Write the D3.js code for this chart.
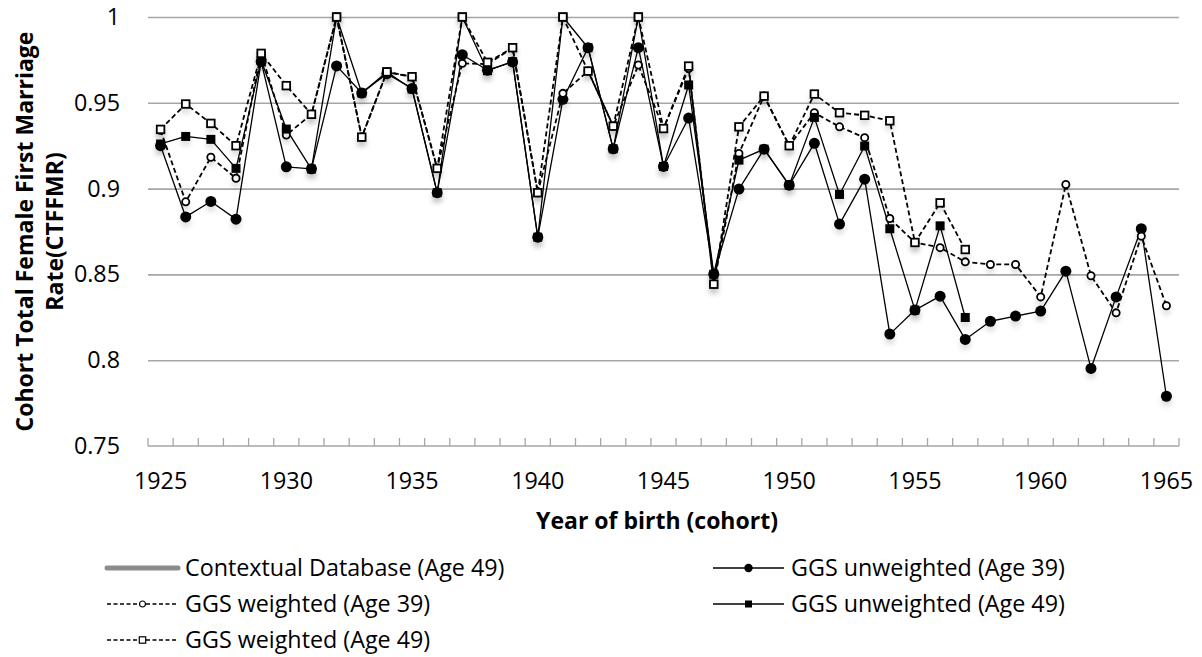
<!DOCTYPE html>
<html>
<head>
<meta charset="utf-8">
<script src="https://cdn.jsdelivr.net/npm/d3@7"></script>
<style>
  body { margin: 0; background: #fff; }
  svg text { font-family: "Open Sans", Lato, sans-serif; fill: #000; }
</style>
</head>
<body>
<svg id="chart" width="1202" height="657"></svg>
<script>
// cohorts (categories) and labelled ticks
var years = [1925, 1926, 1927, 1928, 1929, 1930, 1931, 1932, 1933, 1934,
             1935, 1936, 1937, 1938, 1939, 1940, 1941, 1942, 1943, 1944,
             1945, 1946, 1947, 1948, 1949, 1950, 1951, 1952, 1953, 1954,
             1955, 1956, 1957, 1958, 1959, 1960, 1961, 1962, 1963, 1964, 1965];
var xTickYears = [1925, 1930, 1935, 1940, 1945, 1950, 1955, 1960, 1965];
var yTicks = [0.75, 0.8, 0.85, 0.9, 0.95, 1];

// series values, one per cohort (null = no value)
var contextual49 = [];
var unweighted39 = [0.925, 0.8835, 0.8925, 0.8822, 0.974, 0.9127, 0.9115, 0.9715, 0.9557, 0.967,
                    0.9583, 0.8976, 0.978, 0.969, 0.9738, 0.8717, 0.952, 0.9821, 0.9232, 0.9821,
                    0.9129, 0.9411, 0.8501, 0.8997, 0.923, 0.902, 0.9264, 0.8793, 0.9055, 0.8152,
                    0.8292, 0.8373, 0.8121, 0.8227, 0.8257, 0.8286, 0.8519, 0.7952, 0.8369, 0.8766, 0.779];
var weighted39 = [0.934, 0.8923, 0.9183, 0.906, 0.9788, 0.9312, 0.9433, 1.0, 0.930, 0.968,
                  0.965, 0.912, 0.973, 0.9725, 0.982, 0.8976, 0.9555, 0.9685, 0.9364, 0.972,
                  0.935, 0.970, 0.8443, 0.9205, 0.954, 0.925, 0.9442, 0.936, 0.9297, 0.8826,
                  0.8686, 0.8656, 0.8573, 0.8558, 0.8558, 0.8369, 0.9024, 0.8492, 0.8276, 0.8723, 0.8317];
var unweighted49 = [0.926, 0.9304, 0.9287, 0.9118, 0.9747, 0.9347, 0.9114, 1.0, 0.9557, 0.968,
                    0.958, 0.8976, 1.0, 0.9687, 0.974, 0.8717, 1.0, 0.9821, 0.9232, 1.0,
                    0.9129, 0.9604, 0.8501, 0.9166, 0.923, 0.902, 0.9415, 0.8966, 0.9248, 0.8766,
                    0.8292, 0.8783, 0.8249, null, null, null, null, null, null, null, null];
var weighted49 = [0.9345, 0.9493, 0.938, 0.925, 0.9788, 0.960, 0.9433, 1.0, 0.930, 0.968,
                  0.9652, 0.9118, 1.0, 0.9736, 0.9821, 0.8976, 1.0, 0.9685, 0.9364, 1.0,
                  0.935, 0.9714, 0.8443, 0.936, 0.9539, 0.925, 0.9551, 0.9442, 0.9427, 0.9395,
                  0.8686, 0.8917, 0.8645, null, null, null, null, null, null, null, null];

var svg = d3.select("#chart");

var plot = {left: 148, right: 1179, top: 17, bottom: 446};
var gridColour = "#a6a6a6";
var fontSize = "23.3px";

var x = d3.scaleBand().domain(years).range([plot.left, plot.right]);
var y = d3.scaleLinear().domain([0.75, 1]).range([plot.bottom, plot.top]);

var series = [
  {name: "Contextual Database (Age 49)", values: contextual49, dash: null, width: 5, colour: "#8c8c8c", marker: null},
  {name: "GGS unweighted (Age 39)", values: unweighted39, dash: null, width: 1.3, colour: "#000", marker: "circleFilled"},
  {name: "GGS weighted (Age 39)", values: weighted39, dash: "5,3", width: 1.8, colour: "#000", marker: "circleOpen"},
  {name: "GGS unweighted (Age 49)", values: unweighted49, dash: null, width: 1.3, colour: "#000", marker: "squareFilled"},
  {name: "GGS weighted (Age 49)", values: weighted49, dash: "5,3", width: 1.8, colour: "#000", marker: "squareOpen"}
];

// soft shadow under markers
var defs = svg.append("defs");
var shadow = defs.append("filter").attr("id", "shadow")
  .attr("x", "-50%").attr("y", "-50%").attr("width", "200%").attr("height", "250%");
shadow.append("feDropShadow")
  .attr("dx", 0).attr("dy", 5).attr("stdDeviation", 2.5)
  .attr("flood-color", "#000").attr("flood-opacity", 0.12);

// gridlines
svg.append("g")
   .attr("class", "grid")
   .attr("transform", `translate(${plot.left},0)`)
   .call(d3.axisLeft(y)
     .tickValues(yTicks.slice(1))
     .tickSize(-(plot.right - plot.left))
     .tickFormat(""))
   .call(g => g.select(".domain").remove())
   .selectAll("line")
     .attr("stroke", gridColour)
     .attr("stroke-width", 1.6);

// y axis labels
svg.append("g")
   .attr("class", "y axis")
   .attr("transform", `translate(${plot.left},0)`)
   .call(d3.axisLeft(y)
     .tickValues(yTicks)
     .tickSize(0)
     .tickPadding(28)
     .tickFormat(d => String(+d.toFixed(2))))
   .call(g => g.select(".domain").remove())
   .selectAll("text")
     .attr("font-size", fontSize)
     .attr("font-family", "'Open Sans', Lato, sans-serif")
     .attr("fill", "#000");

// x axis: labels at category centres, ticks on category boundaries
svg.append("g")
   .attr("class", "x axis")
   .attr("transform", `translate(0,${plot.bottom})`)
   .call(d3.axisBottom(x)
     .tickValues(xTickYears)
     .tickSize(0)
     .tickPadding(26))
   .call(g => g.select(".domain").remove())
   .selectAll("text")
     .attr("font-size", fontSize)
     .attr("font-family", "'Open Sans', Lato, sans-serif")
     .attr("fill", "#000");

var boundaries = years.map(d => x(d)).concat([x.range()[1]]);
svg.append("g")
   .selectAll("line")
   .data(boundaries)
   .enter().append("line")
   .attr("x1", d => d).attr("x2", d => d)
   .attr("y1", plot.bottom).attr("y2", plot.bottom - 8)
   .attr("stroke", gridColour)
   .attr("stroke-width", 1.3);

svg.append("line")
   .attr("x1", plot.left).attr("x2", plot.right)
   .attr("y1", plot.bottom).attr("y2", plot.bottom)
   .attr("stroke", gridColour)
   .attr("stroke-width", 1.6);

// axis titles
svg.append("text")
   .attr("x", 657)
   .attr("y", 529)
   .attr("text-anchor", "middle")
   .attr("font-size", "23px")
   .attr("font-weight", "bold")
   .text("Year of birth (cohort)");

var yTitle = ["Cohort Total Female First Marriage", "Rate(CTFFMR)"];
svg.selectAll(".ytitle")
   .data(yTitle)
   .enter().append("text")
   .attr("class", "ytitle")
   .attr("transform", (d, i) => `translate(${33 + i * 30},${(plot.top + plot.bottom) / 2}) rotate(-90)`)
   .attr("text-anchor", "middle")
   .attr("font-size", "23px")
   .attr("font-weight", "bold")
   .text(d => d);

// lines
var cx = d => x(d.year) + x.bandwidth() / 2;
var line = d3.line()
  .defined(d => d.v != null)
  .x(cx)
  .y(d => y(d.v));

function points(s) {
  return s.values.map((v, i) => ({year: years[i], v: v})).filter(d => d.v != null);
}

svg.append("g")
   .selectAll("path")
   .data(series.filter(s => s.values.length))
   .enter().append("path")
   .attr("d", s => line(s.values.map((v, i) => ({year: years[i], v: v}))))
   .attr("fill", "none")
   .attr("stroke", s => s.colour)
   .attr("stroke-width", s => s.width)
   .attr("stroke-dasharray", s => s.dash)
   .attr("stroke-linejoin", "round");

function drawMarker(sel, type) {
  if (type === "circleFilled") {
    sel.append("circle").attr("r", 5.5).attr("fill", "#000");
  } else if (type === "circleOpen") {
    sel.append("circle").attr("r", 3.6).attr("fill", "#fff").attr("stroke", "#000").attr("stroke-width", 1.8);
  } else if (type === "squareFilled") {
    sel.append("rect").attr("x", -4.5).attr("y", -4.5).attr("width", 9).attr("height", 9).attr("fill", "#000");
  } else if (type === "squareOpen") {
    sel.append("rect").attr("x", -3.8).attr("y", -3.8).attr("width", 7.6).attr("height", 7.6)
       .attr("fill", "#fff").attr("stroke", "#000").attr("stroke-width", 1.8);
  }
}

series.filter(s => s.marker).forEach(function(s) {
  var g = svg.append("g").attr("class", "markers").attr("filter", "url(#shadow)");
  var m = g.selectAll("g")
    .data(points(s))
    .enter().append("g")
    .attr("transform", d => `translate(${cx(d)},${y(d.v)})`);
  drawMarker(m, s.marker);
});

// legend, two columns
var legendPos = [
  {x: 107, y: 568}, {x: 713, y: 568},
  {x: 107, y: 604}, {x: 713, y: 604},
  {x: 107, y: 640}
];

var legend = svg.append("g").attr("class", "legend")
  .selectAll("g")
  .data(series)
  .enter().append("g")
  .attr("transform", (d, i) => `translate(${legendPos[i].x},${legendPos[i].y})`);

legend.append("line")
  .attr("x1", 0).attr("x2", 71)
  .attr("y1", 0).attr("y2", 0)
  .attr("stroke", d => d.colour)
  .attr("stroke-width", d => d.width === 5 ? 5 : 1.4)
  .attr("stroke-linecap", d => d.width === 5 ? "round" : "butt")
  .attr("stroke-dasharray", d => d.dash ? "4,2.5" : null);

legend.each(function(d) {
  if (!d.marker) return;
  var m = d3.select(this).append("g").attr("transform", "translate(35.5,0)");
  if (d.marker === "circleFilled") m.append("circle").attr("r", 4.2).attr("fill", "#000");
  if (d.marker === "squareFilled") m.append("rect").attr("x", -3.5).attr("y", -3.5).attr("width", 7).attr("height", 7).attr("fill", "#000");
  if (d.marker === "circleOpen") m.append("circle").attr("r", 3).attr("fill", "#fff").attr("stroke", "#000").attr("stroke-width", 1.2);
  if (d.marker === "squareOpen") m.append("rect").attr("x", -3.2).attr("y", -3.2).attr("width", 6.4).attr("height", 6.4)
                                   .attr("fill", "#fff").attr("stroke", "#000").attr("stroke-width", 1.2);
});

legend.append("text")
  .attr("x", 78)
  .attr("y", 0)
  .attr("dy", "0.36em")
  .attr("font-size", fontSize)
  .text(d => d.name);
</script>
</body>
</html>
